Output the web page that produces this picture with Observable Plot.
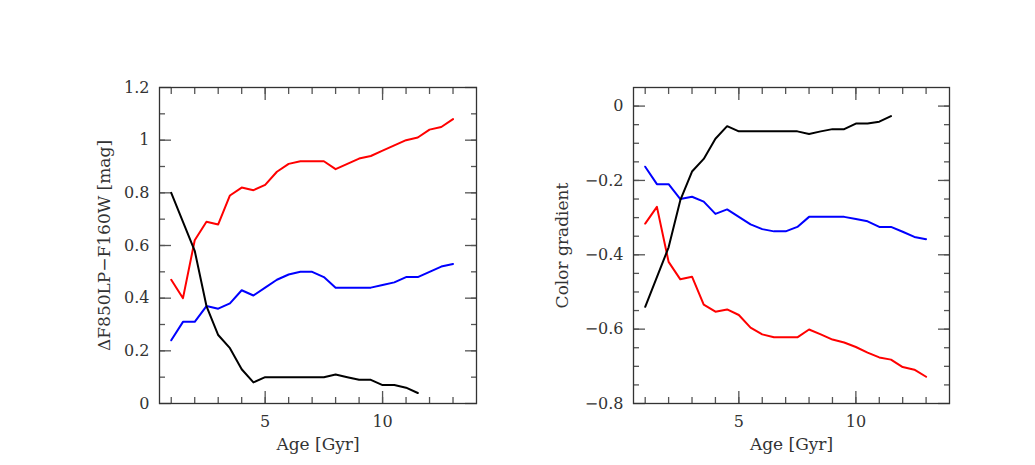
<!DOCTYPE html>
<html>
<head>
<meta charset="utf-8">
<script src="https://cdn.jsdelivr.net/npm/d3@7"></script>
<script src="https://cdn.jsdelivr.net/npm/@observablehq/plot@0.6"></script>
<style>
  html, body { margin: 0; padding: 0; background: #fff; }
  #wrap { position: relative; width: 1035px; height: 465px; background: #fff; }
  #left, #right { position: absolute; top: 0; }
  #left { left: 0; }
  #right { left: 517px; }
</style>
</head>
<body>
<div id="wrap"><div id="left"></div><div id="right"></div></div>
<script>
// ---- data ----
const agesFull = [1,1.5,2,2.5,3,3.5,4,4.5,5,5.5,6,6.5,7,7.5,8,8.5,9,9.5,10,10.5,11,11.5,12,12.5,13];
const agesShort = [1,1.5,2,2.5,3,3.5,4,4.5,5,5.5,6,6.5,7,7.5,8,8.5,9,9.5,10,10.5,11,11.5];

// left panel: ΔF850LP−F160W [mag]
const leftRed   = [0.47,0.40,0.62,0.69,0.68,0.79,0.82,0.81,0.83,0.88,0.91,0.92,0.92,0.92,0.89,0.91,0.93,0.94,0.96,0.98,1.00,1.01,1.04,1.05,1.08];
const leftBlue  = [0.24,0.31,0.31,0.37,0.36,0.38,0.43,0.41,0.44,0.47,0.49,0.50,0.50,0.48,0.44,0.44,0.44,0.44,0.45,0.46,0.48,0.48,0.50,0.52,0.53];
const leftBlack = [0.80,0.69,0.58,0.37,0.26,0.21,0.13,0.08,0.10,0.10,0.10,0.10,0.10,0.10,0.11,0.10,0.09,0.09,0.07,0.07,0.06,0.04];

// right panel: Color gradient
const rightRed   = [-0.316,-0.271,-0.419,-0.466,-0.459,-0.534,-0.553,-0.547,-0.562,-0.596,-0.614,-0.622,-0.622,-0.622,-0.601,-0.614,-0.628,-0.636,-0.648,-0.663,-0.676,-0.682,-0.702,-0.709,-0.728];
const rightBlue  = [-0.163,-0.210,-0.210,-0.250,-0.244,-0.257,-0.290,-0.278,-0.298,-0.318,-0.331,-0.337,-0.337,-0.325,-0.298,-0.298,-0.298,-0.298,-0.304,-0.310,-0.325,-0.325,-0.338,-0.352,-0.358];
const rightBlack = [-0.54,-0.46,-0.38,-0.253,-0.176,-0.142,-0.088,-0.054,-0.068,-0.068,-0.068,-0.068,-0.068,-0.068,-0.075,-0.068,-0.062,-0.062,-0.047,-0.047,-0.042,-0.027];

// ticks
const xMajor = [5, 10];
const xMinor = [1,2,3,4,5,6,7,8,9,10,11,12,13];
const leftYMajor = [0, 0.2, 0.4, 0.6, 0.8, 1, 1.2];
const leftYMinor = [0.1, 0.2, 0.3, 0.4, 0.5, 0.6, 0.7, 0.8, 0.9, 1.0, 1.1];
const rightYMajor = [-0.8, -0.6, -0.4, -0.2, 0];
const rightYMinor = [-0.75,-0.7,-0.65,-0.6,-0.55,-0.5,-0.45,-0.4,-0.35,-0.3,-0.25,-0.2,-0.15,-0.1,-0.05,0];

const xLabel = "Age [Gyr]";
const leftYLabel = "ΔF850LP−F160W [mag]";
const rightYLabel = "Color gradient";

const colors = {red: "#ff0000", blue: "#0000ff", black: "#000000"};
const tickColor = "#555";
const textColor = "#333";

function series(xs, ys, name) { return ys.map((v, i) => ({age: xs[i], value: v, name})); }

const fmt = d => d < 0 ? "\u2212" + String(Math.abs(d)) : String(d);

function panel({data, yDomain, yMajor, yMinor, yLabel, width, marginLeft, marginRight, yLabelDx}) {
  return Plot.plot({
    width, height: 465,
    marginLeft, marginRight, marginTop: 87, marginBottom: 62,
    style: {fontFamily: "'DejaVu Serif', serif", fontSize: "16px", color: textColor, background: "transparent", overflow: "visible"},
    x: {domain: [0.5, 14]},
    y: {domain: yDomain},
    marks: [
      // tick labels
      Plot.axisX({anchor: "bottom", ticks: xMajor, tickSize: 0, tickPadding: 12, tickFormat: fmt, label: null, fill: textColor}),
      Plot.axisY({anchor: "left", ticks: yMajor, tickSize: 0, tickPadding: 10, tickFormat: fmt, label: null, fill: textColor}),
      // inward ticks, mirrored
      ...["bottom", "top"].flatMap(a => [
        Plot.axisX({anchor: a, ticks: xMinor, tickSize: -6, fill: "none", stroke: tickColor, strokeWidth: 1.3, label: null}),
        Plot.axisX({anchor: a, ticks: xMajor, tickSize: -12, fill: "none", stroke: tickColor, strokeWidth: 1.3, label: null})
      ]),
      ...["left", "right"].flatMap(a => [
        Plot.axisY({anchor: a, ticks: yMinor, tickSize: -6, fill: "none", stroke: tickColor, strokeWidth: 1.3, label: null}),
        Plot.axisY({anchor: a, ticks: yMajor, tickSize: -12, fill: "none", stroke: tickColor, strokeWidth: 1.3, label: null})
      ]),
      Plot.line(data, {x: "age", y: "value", z: "name", stroke: d => colors[d.name], strokeWidth: 2}),
      Plot.frame({stroke: "#333", strokeWidth: 1.3}),
      Plot.text([xLabel], {text: d => d, frameAnchor: "bottom", textAnchor: "middle", lineAnchor: "bottom", dy: 46, fill: textColor, fontSize: 17}),
      Plot.text([yLabel], {text: d => d, frameAnchor: "left", textAnchor: "middle", rotate: -90, lineAnchor: "middle", dx: yLabelDx, fill: textColor, fontSize: 17})
    ]
  });
}

const leftData = [
  ...series(agesFull, leftRed, "red"),
  ...series(agesFull, leftBlue, "blue"),
  ...series(agesShort, leftBlack, "black")
];
const rightData = [
  ...series(agesFull, rightRed, "red"),
  ...series(agesFull, rightBlue, "blue"),
  ...series(agesShort, rightBlack, "black")
];

document.getElementById("left").append(panel({
  data: leftData, yDomain: [0, 1.2], yMajor: leftYMajor, yMinor: leftYMinor, yLabel: leftYLabel,
  width: 517, marginLeft: 159, marginRight: 41, yLabelDx: -55
}));
document.getElementById("right").append(panel({
  data: rightData, yDomain: [-0.8, 0.05], yMajor: rightYMajor, yMinor: rightYMinor, yLabel: rightYLabel,
  width: 518, marginLeft: 116, marginRight: 86, yLabelDx: -71
}));
</script>
</body>
</html>
